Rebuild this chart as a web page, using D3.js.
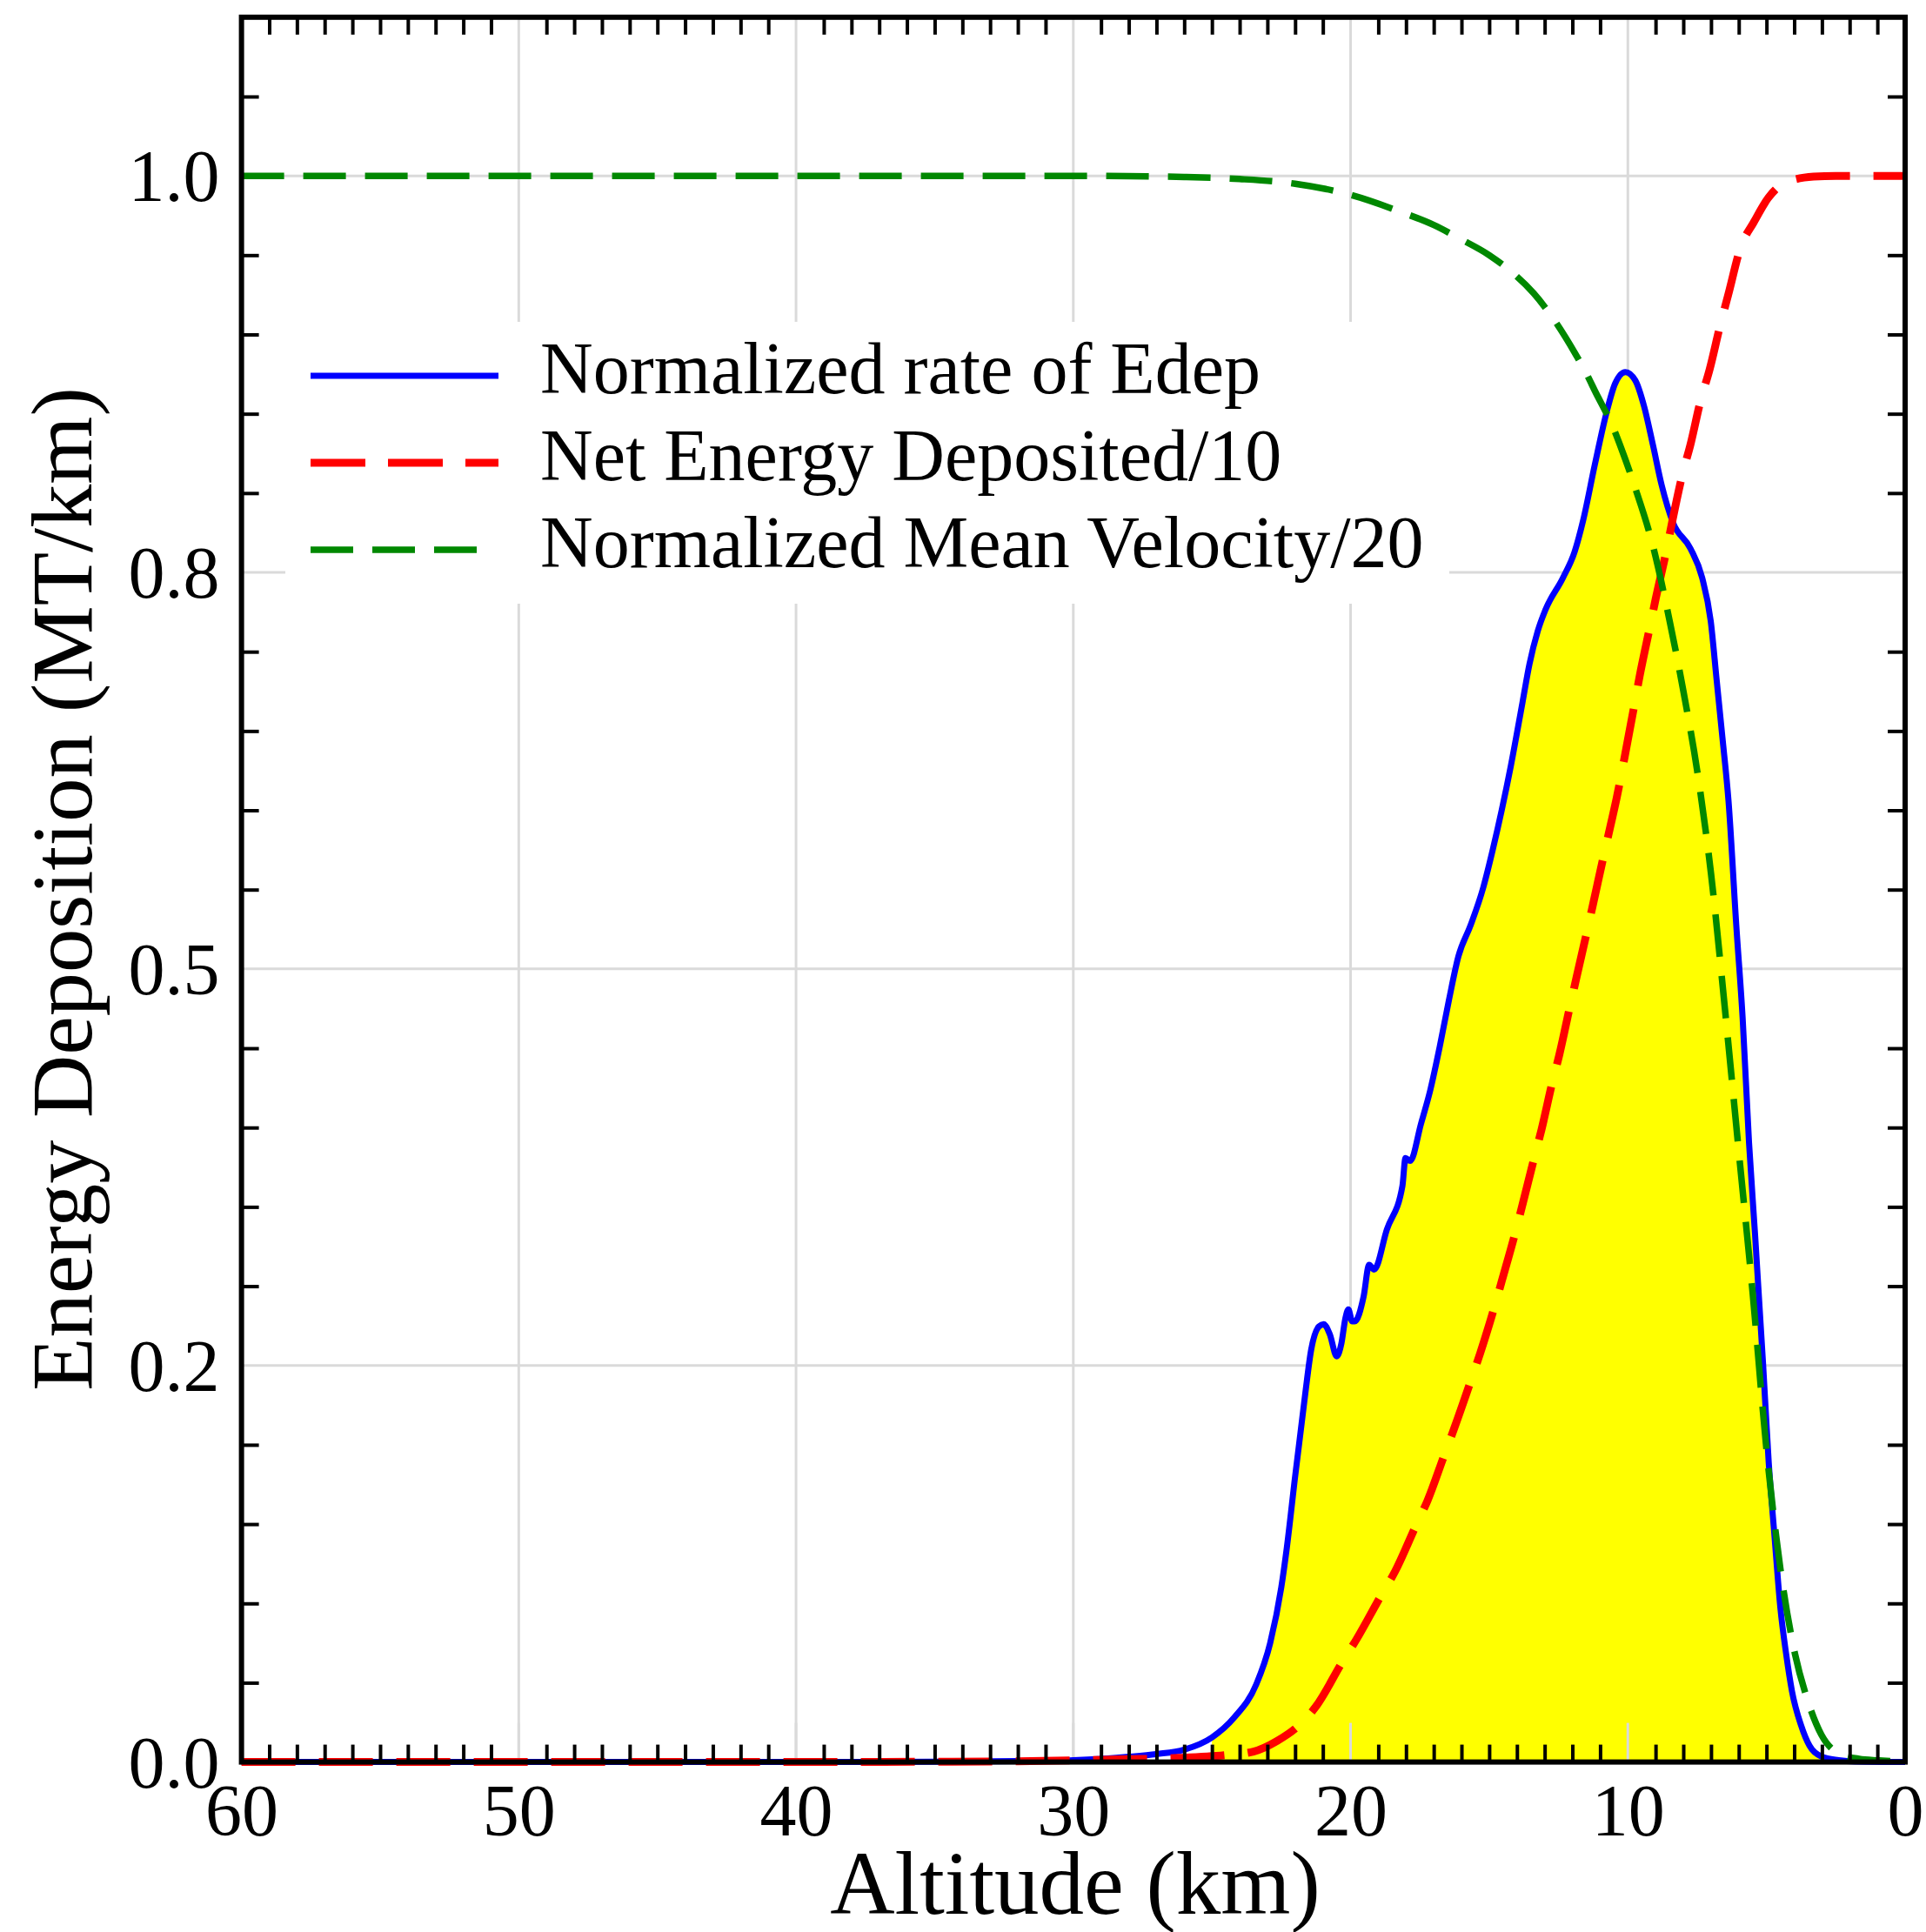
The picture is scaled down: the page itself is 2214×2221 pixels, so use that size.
<!DOCTYPE html>
<html lang="en">
<head>
    <meta charset="UTF-8">
    <title>Energy Deposition vs Altitude</title>
    <script src="https://d3js.org/d3.v7.min.js"></script>
    <style>
    html, body { margin: 0; background: #fff; }
    svg { display: block; }
    text { font-family: "Liberation Serif", "Times New Roman", serif; fill: #000; }
    </style>
</head>
<body>
<div id="chart"></div>
<script>
// altitude (km) / value pairs
var edepAlt = [60, 40, 35, 32, 30, 29, 28, 27, 26, 25, 24.2, 23.4, 22.9, 22.5, 22.3, 22.0, 21.65, 21.42, 21.14, 20.97, 20.75, 20.5, 20.33, 20.19, 20.08, 19.94, 19.85, 19.53, 19.33, 19.15, 18.69, 18.13, 18.02, 17.85, 17.46, 17.12, 16.78, 16.45, 16.11, 15.67, 15.22, 14.88, 14.55, 14.22, 13.8, 13.55, 13.25, 12.97, 12.34, 11.92, 11.61, 11.19, 10.77, 10.46, 10.09, 9.73, 9.41, 9.1, 8.78, 8.37, 7.74, 7.32, 7.01, 6.8, 6.59, 6.37, 6.09, 5.86, 5.63, 5.41, 5.12, 4.92, 4.71, 4.5, 4.29, 4.08, 3.75, 3.45, 3.02, 2.4, 1.8, 0];
var edepVal = [0, 0, 0.0002, 0.0006, 0.0012, 0.002, 0.0033, 0.005, 0.0078, 0.0155, 0.028, 0.049, 0.075, 0.11, 0.135, 0.18, 0.23, 0.26, 0.2746, 0.276, 0.2697, 0.2558, 0.264, 0.2795, 0.2853, 0.2778, 0.2778, 0.2935, 0.3135, 0.3105, 0.3358, 0.3632, 0.3808, 0.379, 0.4024, 0.424, 0.4514, 0.4806, 0.508, 0.5276, 0.551, 0.5746, 0.600, 0.628, 0.668, 0.692, 0.713, 0.7265, 0.7466, 0.763, 0.783, 0.818, 0.8507, 0.869, 0.8763, 0.871, 0.8544, 0.8307, 0.805, 0.7813, 0.765, 0.7466, 0.7192, 0.6826, 0.646, 0.606, 0.5276, 0.469, 0.3906, 0.332, 0.25, 0.189, 0.1424, 0.0974, 0.068, 0.0446, 0.023, 0.0103, 0.0035, 0.0012, 0.0003, 0];

var netAlt = [60, 40, 32, 30, 28, 26.2, 24.5, 23.5, 22.65, 21.87, 21.25, 20.3, 19.8, 18.9, 18.4, 17.67, 17.22, 16.61, 16.27, 15.65, 15.32, 14.81, 14.55, 14.04, 13.82, 13.36, 13.11, 12.73, 12.47, 12.08, 11.86, 11.43, 11.24, 10.85, 10.63, 10.4, 10.09, 9.78, 9.57, 9.2, 9.0, 8.57, 8.4, 8.0, 7.75, 7.38, 7.05, 6.68, 6.38, 5.93, 5.45, 4.94, 4.3, 3.3, 2.5, 0];
var netVal = [0, 0, 0.0005, 0.001, 0.0018, 0.0026, 0.0044, 0.0066, 0.0133, 0.023, 0.035, 0.063, 0.077, 0.105, 0.12, 0.148, 0.165, 0.194, 0.21, 0.241, 0.258, 0.287, 0.303, 0.335, 0.35, 0.382, 0.399, 0.428, 0.446, 0.477, 0.494, 0.527, 0.542, 0.573, 0.59, 0.608, 0.636, 0.665, 0.685, 0.716, 0.733, 0.767, 0.782, 0.814, 0.83, 0.858, 0.878, 0.905, 0.925, 0.955, 0.971, 0.986, 0.996, 0.9995, 1.0, 1.0];

var velAlt = [60, 30, 28, 26, 24, 22, 20, 18.15, 17.0, 16.07, 15.0, 14.2, 13.4, 12.65, 11.9, 11.5, 11.19, 10.5, 10.25, 9.73, 9.1, 8.5, 8.0, 7.5, 7.0, 6.5, 6.0, 5.5, 5.0, 4.5, 3.97, 3.55, 3.02, 2.39, 1.66, 0.94, 0];
var velVal = [1.0, 1.0, 0.9998, 0.9993, 0.998, 0.995, 0.988, 0.977, 0.969, 0.9605, 0.950, 0.9395, 0.926, 0.909, 0.888, 0.8755, 0.8645, 0.840, 0.8288, 0.803, 0.767, 0.72, 0.6754, 0.625, 0.56, 0.475, 0.385, 0.296, 0.197, 0.122, 0.068, 0.0407, 0.0172, 0.0054, 0.002, 0.001, 0];

var fillFrom = 25;   // shading under the Edep curve starts here

var xMajor = [60, 50, 40, 30, 20, 10, 0];
var xLabels = ["60", "50", "40", "30", "20", "10", "0"];
var yMajor = [0, 0.25, 0.5, 0.75, 1.0];
var yLabels = ["0.0", "0.2", "0.5", "0.8", "1.0"];

var seriesNames = ["Normalized rate of Edep", "Net Energy Deposited/10", "Normalized Mean Velocity/20"];

var W = 2214, H = 2221;
var plotL = 277.6, plotR = 2190, plotT = 19.8, plotB = 2025.6;

var svg = d3.select("#chart").append("svg")
    .attr("width", W).attr("height", H);

var x = d3.scaleLinear().domain([60, 0]).range([plotL, plotR]);
var y = d3.scaleLinear().domain([0, 1.1]).range([plotB, plotT]);

function pairs(a, v) { return a.map(function (d, i) { return [d, v[i]]; }); }
var edep = pairs(edepAlt, edepVal),
    net = pairs(netAlt, netVal),
    vel = pairs(velAlt, velVal);

// grid
var grid = svg.append("g").attr("stroke", "#dadada").attr("stroke-width", 3);
grid.selectAll(".gx").data(xMajor.slice(1, -1)).enter().append("line")
    .attr("x1", function (d) { return x(d); }).attr("x2", function (d) { return x(d); })
    .attr("y1", plotT).attr("y2", plotB);
grid.selectAll(".gy").data(yMajor.slice(1)).enter().append("line")
    .attr("y1", function (d) { return y(d); }).attr("y2", function (d) { return y(d); })
    .attr("x1", plotL).attr("x2", plotR);

var line = d3.line()
    .x(function (d) { return x(d[0]); })
    .y(function (d) { return y(d[1]); })
    .curve(d3.curveMonotoneX);

var area = d3.area()
    .x(function (d) { return x(d[0]); })
    .y0(y(0))
    .y1(function (d) { return y(d[1]); })
    .curve(d3.curveMonotoneX);

svg.append("path")
    .datum(edep.filter(function (d) { return d[0] <= fillFrom; }))
    .attr("d", area)
    .attr("fill", "#ffff00");

// short grid stubs that sit over the shading at the bottom
svg.append("g").selectAll("line").data(xMajor.slice(1, -1)).enter().append("line")
    .attr("x1", function (d) { return x(d); }).attr("x2", function (d) { return x(d); })
    .attr("y1", plotB).attr("y2", plotB - 45)
    .attr("stroke", "#dadada").attr("stroke-width", 3);

svg.append("path").datum(edep).attr("d", line)
    .attr("fill", "none").attr("stroke", "#0000ff").attr("stroke-width", 7);
svg.append("path").datum(net).attr("d", line)
    .attr("fill", "none").attr("stroke", "#ff0000").attr("stroke-width", 9)
    .attr("stroke-dasharray", "62,27");
svg.append("path").datum(vel).attr("d", line)
    .attr("fill", "none").attr("stroke", "#008800").attr("stroke-width", 7.5)
    .attr("stroke-dasharray", "49,22");

// minor ticks on all four sides
var xMinor = d3.range(1, 60).filter(function (d) { return d % 10 !== 0; });
var yMinor = d3.range(1, 22).filter(function (d) { return d % 5 !== 0; }).map(function (d) { return d * 0.05; });

function minor(g) {
    g.select(".domain").remove();
    g.selectAll("text").remove();
    g.selectAll(".tick line").attr("stroke", "#000").attr("stroke-width", 4);
}
svg.append("g").attr("transform", "translate(0," + plotB + ")")
    .call(d3.axisBottom(x).tickValues(xMinor).tickSize(-20)).call(minor);
svg.append("g").attr("transform", "translate(0," + plotT + ")")
    .call(d3.axisTop(x).tickValues(xMinor).tickSize(-20)).call(minor);
svg.append("g").attr("transform", "translate(" + plotL + ",0)")
    .call(d3.axisLeft(y).tickValues(yMinor).tickSize(-20)).call(minor);
svg.append("g").attr("transform", "translate(" + plotR + ",0)")
    .call(d3.axisRight(y).tickValues(yMinor).tickSize(-20)).call(minor);

// frame
svg.append("rect")
    .attr("x", plotL).attr("y", plotT)
    .attr("width", plotR - plotL).attr("height", plotB - plotT)
    .attr("fill", "none").attr("stroke", "#000").attr("stroke-width", 6);

// tick labels
var xAxis = svg.append("g").attr("transform", "translate(0," + plotB + ")")
    .call(d3.axisBottom(x).tickValues(xMajor)
        .tickFormat(function (d, i) { return xLabels[i]; })
        .tickSize(0).tickPadding(25));
xAxis.select(".domain").remove();
xAxis.selectAll("text").attr("font-size", 84)
    .style("font-family", "'Liberation Serif', 'Times New Roman', serif");

var yAxis = svg.append("g").attr("transform", "translate(" + plotL + ",0)")
    .call(d3.axisLeft(y).tickValues(yMajor)
        .tickFormat(function (d, i) { return yLabels[i]; })
        .tickSize(0).tickPadding(25));
yAxis.select(".domain").remove();
yAxis.selectAll("text").attr("font-size", 84).attr("dy", "0.34em")
    .style("font-family", "'Liberation Serif', 'Times New Roman', serif");

// axis titles
svg.append("text")
    .attr("x", 1236).attr("y", 2200)
    .attr("text-anchor", "middle").attr("font-size", 103)
    .text("Altitude (km)");
svg.append("text")
    .attr("transform", "translate(105,1022) rotate(-90)")
    .attr("text-anchor", "middle").attr("font-size", 100.5)
    .text("Energy Deposition (MT/km)");

// legend
var legend = svg.append("g");
legend.append("rect")
    .attr("x", 328).attr("y", 370).attr("width", 1338).attr("height", 324)
    .attr("fill", "#fff");

var legendStyle = [
    { color: "#0000ff", width: 7, dash: null },
    { color: "#ff0000", width: 9, dash: "63,26" },
    { color: "#008800", width: 7.5, dash: "49,22" }
];
seriesNames.forEach(function (name, i) {
    var yy = 432 + i * 100;
    legend.append("line")
        .attr("x1", 357).attr("x2", i === 2 ? 550 : 573).attr("y1", yy).attr("y2", yy)
        .attr("stroke", legendStyle[i].color)
        .attr("stroke-width", legendStyle[i].width)
        .attr("stroke-dasharray", legendStyle[i].dash);
    legend.append("text")
        .attr("x", 621).attr("y", yy + 20)
        .attr("font-size", 84)
        .text(name);
});
</script>
</body>
</html>
